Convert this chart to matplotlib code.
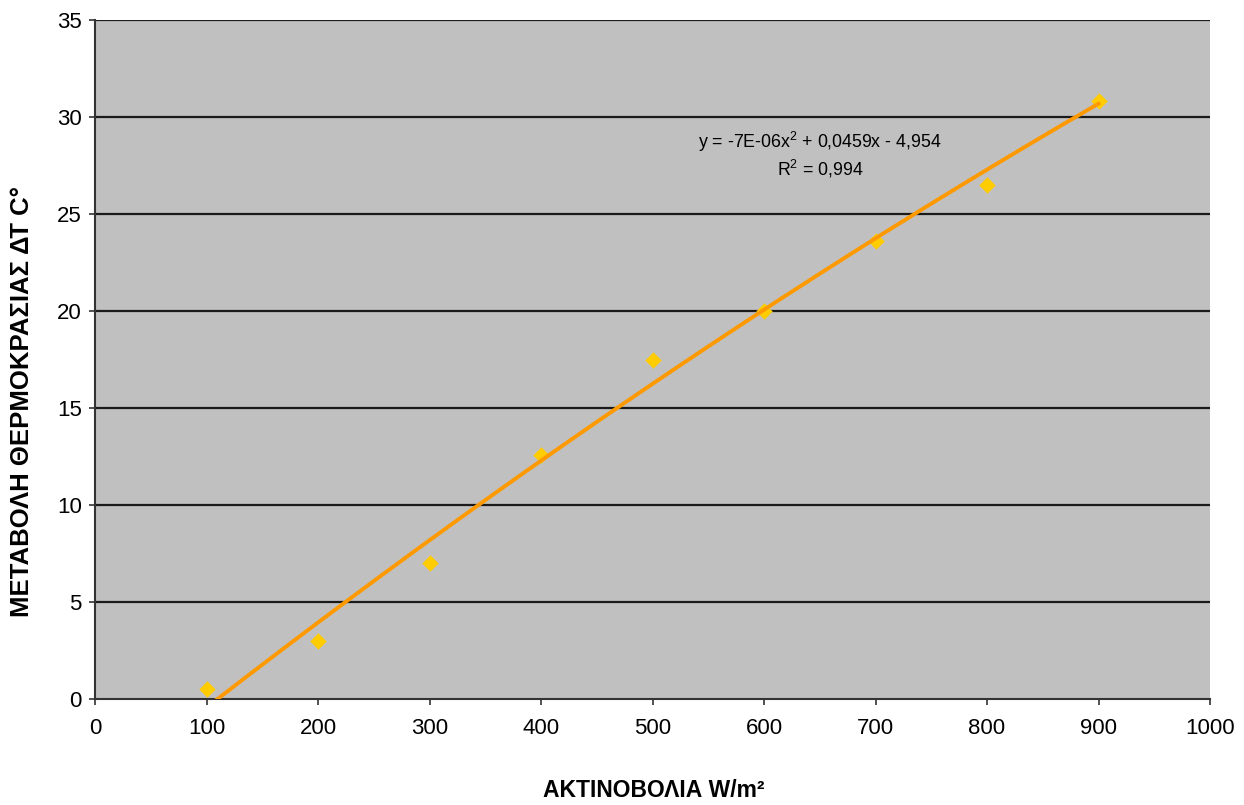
import numpy as np
from matplotlib import pyplot as plt

# measured points
radiation = [100, 200, 300, 400, 500, 600, 700, 800, 900]
delta_t = [0.5, 3.0, 7.0, 12.6, 17.5, 20.0, 23.6, 26.5, 30.8]

# trendline coefficients as printed on the chart
coef = [-7e-06, 0.0459, -4.954]
equation = 'y = -7E-06x$^2$ + 0,0459x - 4,954'
r2_text = 'R$^2$ = 0,994'

x_ticks = list(range(0, 1001, 100))
y_ticks = list(range(0, 36, 5))

plt.rcParams['font.family'] = ['Liberation Sans', 'DejaVu Sans']
plt.rcParams['mathtext.fontset'] = 'custom'
plt.rcParams['mathtext.rm'] = 'Liberation Sans'
plt.rcParams['mathtext.it'] = 'Liberation Sans'

fig = plt.figure(figsize=(12.44, 8.05), dpi=100)
ax = fig.add_axes([0.0764, 0.1316, 0.8963, 0.8436])
ax.set_facecolor('#C0C0C0')

for y in y_ticks[1:]:
    ax.axhline(y, color='#1a1a1a', linewidth=1.6, zorder=1)

xs = np.linspace(radiation[0], radiation[-1], 200)
ax.plot(xs, np.polyval(coef, xs), color='#FF9900', linewidth=2.8, zorder=3)
ax.scatter(radiation, delta_t, marker='D', s=70, color='#FFCC00', zorder=2,
           linewidths=0)

ax.text(650, 28.7, equation, ha='center', va='center', fontsize=12.8)
ax.text(650, 27.3, r2_text, ha='center', va='center', fontsize=12.8)

ax.set_xlim(0, 1000)
ax.set_ylim(0, 35)
ax.set_xticks(x_ticks)
ax.set_yticks(y_ticks)
ax.tick_params(direction='out', length=4.5, width=1.2, labelsize=16,
               color='#333333')
ax.tick_params(axis='y', pad=5)
ax.tick_params(axis='x', pad=9)
for side in ['left', 'bottom']:
    ax.spines[side].set_color('#333333')
    ax.spines[side].set_linewidth(1.5)
for side in ['top', 'right']:
    ax.spines[side].set_visible(False)

fig.text(654 / 1244, 1 - 790 / 805, 'ΑΚΤΙΝΟΒΟΛΙΑ W/m²', fontsize=16.5,
         fontweight='bold', ha='center', va='center')
fig.text(22 / 1244, 1 - 401 / 805, 'ΜΕΤΑΒΟΛΗ ΘΕΡΜΟΚΡΑΣΙΑΣ ΔΤ C°', fontsize=18.5,
         fontweight='bold', ha='center', va='center', rotation=90)

fig.savefig('out.png', dpi=100)
